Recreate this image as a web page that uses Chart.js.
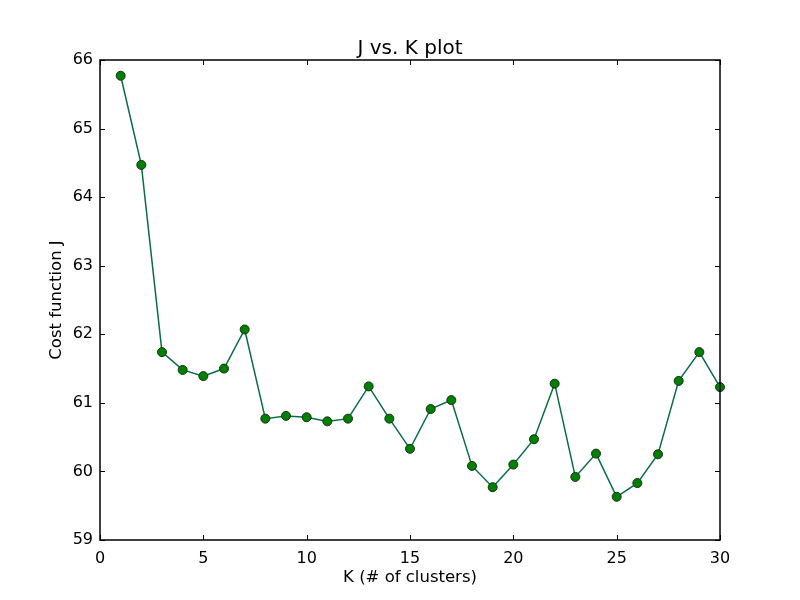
<!DOCTYPE html>
<html>
<head>
<meta charset="utf-8">
<script src="https://cdn.jsdelivr.net/npm/chart.js@4"></script>
<style>
  body { margin: 0; background: #ffffff; }
  #wrap { width: 800px; height: 600px; }
</style>
</head>
<body>
<div id="wrap"><canvas id="plot" width="800" height="600"></canvas></div>
<script>
// number of clusters K and the cost J for each run
var kValues = [1, 2, 3, 4, 5, 6, 7, 8, 9, 10, 11, 12, 13, 14, 15,
               16, 17, 18, 19, 20, 21, 22, 23, 24, 25, 26, 27, 28, 29, 30];
var costJ = [65.77, 64.47, 61.74, 61.48, 61.39, 61.50, 62.07, 60.77, 60.81, 60.79,
             60.73, 60.77, 61.24, 60.77, 60.33, 60.91, 61.04, 60.08, 59.77, 60.10,
             60.47, 61.28, 59.92, 60.26, 59.63, 59.83, 60.25, 61.32, 61.74, 61.23];
var xTicks = [0, 5, 10, 15, 20, 25, 30];
var yTicks = [59, 60, 61, 62, 63, 64, 65, 66];
var plotTitle = "J vs. K plot";

var fontName = "'DejaVu Sans', sans-serif";

// black frame, inward ticks on all four sides and the title centred on the axes box
var framePlugin = {
	id: "frame",
	afterDraw: function(chart)
	{
		let ctx = chart.ctx;
		let a = chart.chartArea;
		let xs = chart.scales.x;
		let ys = chart.scales.y;
		let len = 5;
		ctx.save();
		ctx.strokeStyle = "#000000";
		ctx.lineWidth = 1;
		ctx.beginPath();
		for (let i = 0; i < xTicks.length; i++)
		{
			let px = Math.round(xs.getPixelForValue(xTicks[i])) + 0.5;
			ctx.moveTo(px, a.bottom);
			ctx.lineTo(px, a.bottom - len);
			ctx.moveTo(px, a.top);
			ctx.lineTo(px, a.top + len);
		}
		for (let i = 0; i < yTicks.length; i++)
		{
			let py = Math.round(ys.getPixelForValue(yTicks[i])) + 0.5;
			ctx.moveTo(a.left, py);
			ctx.lineTo(a.left + len, py);
			ctx.moveTo(a.right, py);
			ctx.lineTo(a.right - len, py);
		}
		ctx.stroke();
		ctx.lineWidth = 1.5;
		ctx.strokeRect(a.left, a.top, a.right - a.left, a.bottom - a.top);

		ctx.fillStyle = "#000000";
		ctx.font = "20px " + fontName;
		ctx.textAlign = "center";
		ctx.textBaseline = "alphabetic";
		ctx.fillText(plotTitle, (a.left + a.right) / 2, a.top - 6);
		ctx.restore();
	}
};

var points = [];
for (let i = 0; i < kValues.length; i++)
{
	points.push({x: kValues[i], y: costJ[i]});
}

new Chart(document.getElementById("plot"),
{
	type: "line",
	data:
	{
		datasets:
		[{
			label: "J",
			data: points,
			borderColor: "#0a6e46",
			borderWidth: 1.5,
			backgroundColor: "#008000",
			pointBackgroundColor: "#008000",
			pointBorderColor: "#1a2e1a",
			pointBorderWidth: 1,
			pointRadius: 4.5,
			tension: 0,
			clip: false
		}]
	},
	options:
	{
		responsive: false,
		animation: false,
		devicePixelRatio: 1,
		layout: { padding: { left: 0, right: 80, top: 60, bottom: 0 } },
		plugins:
		{
			legend: { display: false },
			tooltip: { enabled: false },
			title: { display: false }
		},
		scales:
		{
			x:
			{
				type: "linear",
				min: 0,
				max: 30,
				afterBuildTicks: function(scale) { scale.ticks = xTicks.map(function(v) { return {value: v}; }); },
				afterFit: function(scale) { scale.height = 60; },
				grid: { display: false, drawTicks: false },
				border: { display: false },
				ticks: { color: "#000000", padding: 9, font: { family: fontName, size: 16 }, maxRotation: 0 },
				title:
				{
					display: true,
					text: "K (# of clusters)",
					color: "#000000",
					font: { family: fontName, size: 16.5 },
					padding: { top: 4, bottom: 12 }
				}
			},
			y:
			{
				type: "linear",
				min: 59,
				max: 66,
				afterBuildTicks: function(scale) { scale.ticks = yTicks.map(function(v) { return {value: v}; }); },
				afterFit: function(scale) { scale.width = 100; },
				grid: { display: false, drawTicks: false },
				border: { display: false },
				ticks: { color: "#000000", padding: 7, font: { family: fontName, size: 16 } },
				title:
				{
					display: true,
					text: "Cost function J",
					color: "#000000",
					font: { family: fontName, size: 16.5 },
					padding: { top: 47, bottom: 4 }
				}
			}
		}
	},
	plugins: [framePlugin]
});
</script>
</body>
</html>
